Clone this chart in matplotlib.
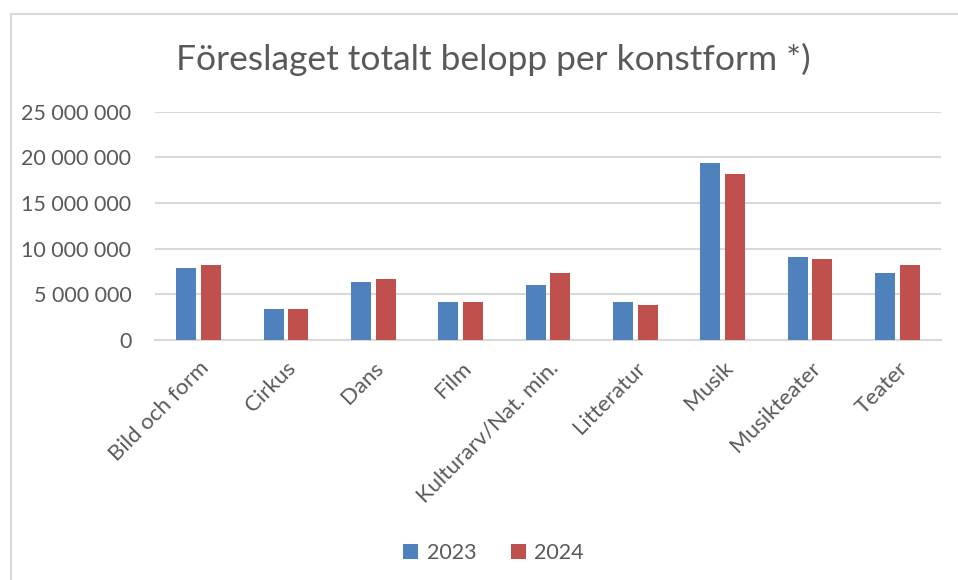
import matplotlib.pyplot as plt
import numpy as np
from matplotlib.patches import Rectangle

# --- data ---
konstformer = ["Bild och form", "Cirkus", "Dans", "Film", "Kulturarv/Nat. min.",
               "Litteratur", "Musik", "Musikteater", "Teater"]
belopp_2023 = [7880000, 3390000, 6350000, 4160000, 6020000,
               4160000, 19380000, 9090000, 7340000]
belopp_2024 = [8210000, 3390000, 6680000, 4160000, 7340000,
               3830000, 18170000, 8870000, 8210000]
y_ticks = [0, 5000000, 10000000, 15000000, 20000000, 25000000]

BLUE = "#4F81BD"
RED = "#C0504D"
TEXT = "#595959"
GRID = "#D9D9D9"

plt.rcParams['font.family'] = ['Lato', 'DejaVu Sans']

fig = plt.figure(figsize=(9.58, 5.8), dpi=100)
ax = fig.add_axes([155 / 958, 0.4138, (941 - 155) / 958, 0.8074 - 0.4138])

x = np.arange(len(konstformer))
w = 0.229
off = 0.143
ax.bar(x - off, belopp_2023, w, color=BLUE, label="2023", zorder=3)
ax.bar(x + off, belopp_2024, w, color=RED, label="2024", zorder=3)

ax.set_xlim(-0.5, len(konstformer) - 0.5)
ax.set_ylim(0, 25000000)
ax.set_yticks(y_ticks)
ax.set_yticklabels([f"{v:,}".replace(",", " ") for v in y_ticks])
ax.yaxis.grid(True, color=GRID, linewidth=1.5, zorder=0)
ax.set_axisbelow(True)

for s in ["top", "right", "left"]:
    ax.spines[s].set_visible(False)
ax.spines["bottom"].set_color(GRID)
ax.spines["bottom"].set_linewidth(1.5)

ax.tick_params(axis="y", length=0, pad=17, labelsize=15.5, labelcolor=TEXT)
ax.tick_params(axis="x", length=0, pad=13, labelsize=16, labelcolor=TEXT)
ax.set_xticks(x)
ax.set_xticklabels(konstformer, rotation=45, ha="right", va="top",
                   rotation_mode="anchor")

# title
fig.text(0.515, 0.897, "Föreslaget totalt belopp per konstform *)",
         ha="center", va="center", fontsize=25.5, color=TEXT)

# legend at the bottom
leg = fig.legend(loc="center", ncol=2, frameon=False,
                 fontsize=15.5, labelcolor=TEXT, handlelength=0.7,
                 handleheight=0.7, handletextpad=0.4, columnspacing=1.6)
leg.set_bbox_to_anchor((0.515, (580 - 553) / 580), transform=fig.transFigure)

# chart border (light gray frame, cut off at right and bottom)
fig.patches.append(Rectangle((11 / 958, -0.1), 1.2, (580 - 14) / 580 + 0.1,
                             transform=fig.transFigure, fill=False,
                             edgecolor=GRID, linewidth=1.5))

fig.savefig("out.png", dpi=100)
